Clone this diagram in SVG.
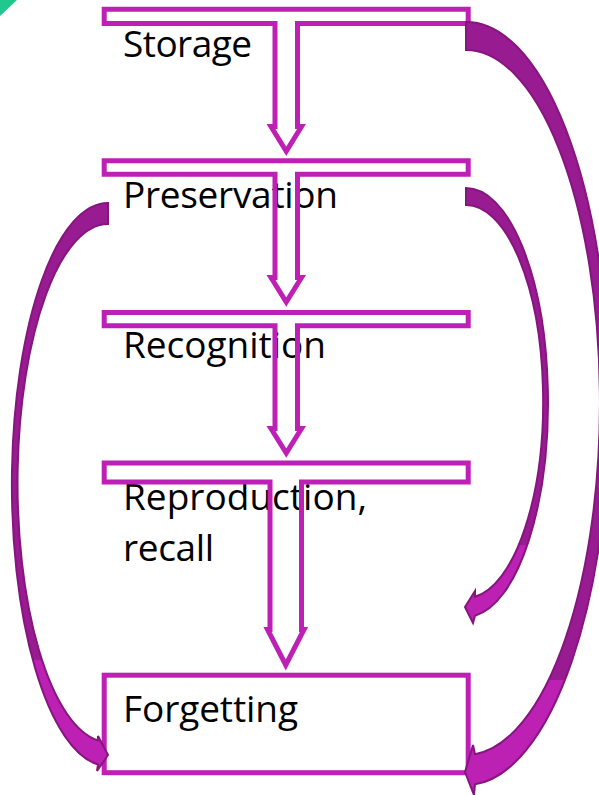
<svg xmlns="http://www.w3.org/2000/svg" width="599" height="795" viewBox="0 0 599 795">
  <style>
    .t { fill: none; stroke: #BE1FB4; stroke-width: 5; stroke-linejoin: miter; }
    .lbl { font-family: "Open Sans", "Liberation Sans", sans-serif; font-size: 37px; fill: #000; }
    .arc { stroke: #87157F; stroke-width: 2; stroke-linejoin: miter; }
  </style>
  <defs>
    <linearGradient id="gA" gradientUnits="userSpaceOnUse" x1="0" y1="0" x2="0" y2="795">
      <stop offset="0.855" stop-color="#991B91"/>
      <stop offset="0.855" stop-color="#BC21B4"/>
    </linearGradient>
    <linearGradient id="gB" gradientUnits="userSpaceOnUse" x1="0" y1="0" x2="0" y2="795">
      <stop offset="0.685" stop-color="#991B91"/>
      <stop offset="0.685" stop-color="#BC21B4"/>
    </linearGradient>
    <linearGradient id="gC" gradientUnits="userSpaceOnUse" x1="0" y1="0" x2="0" y2="795">
      <stop offset="0.83" stop-color="#991B91"/>
      <stop offset="0.83" stop-color="#BC21B4"/>
    </linearGradient>
  </defs>
  <rect width="599" height="795" fill="#FFFFFF"/>
  <polygon points="0,0 17,0 0,16" fill="#1FC98E"/>

  <g id="storage">
    <text class="lbl" x="123" y="57" textLength="129" lengthAdjust="spacing">Storage</text>
    <polygon class="t" points="104.2,9.3 468.2,9.3 468.2,23.5 297.5,23.5 297.5,126.5 301.5,126.5 286.25,151.2 271,126.5 275,126.5 275,23.5 104.2,23.5"/>
  </g>
  <g id="preservation">
    <text class="lbl" x="123" y="208" textLength="215" lengthAdjust="spacing">Preservation</text>
    <polygon class="t" points="104.2,160.8 468.2,160.8 468.2,174.2 297.5,174.2 297.5,277.5 301.5,277.5 286.25,302 271,277.5 275,277.5 275,174.2 104.2,174.2"/>
  </g>
  <g id="recognition">
    <text class="lbl" x="123" y="358" textLength="203" lengthAdjust="spacing">Recognition</text>
    <polygon class="t" points="104.2,312.5 468.2,312.5 468.2,325.8 297.5,325.8 297.5,428.5 301.5,428.5 286.25,453 271,428.5 275,428.5 275,325.8 104.2,325.8"/>
  </g>
  <g id="reproduction">
    <text class="lbl" x="123" y="510" textLength="244" lengthAdjust="spacing">Reproduction,</text>
    <text class="lbl" x="123" y="561" textLength="91" lengthAdjust="spacing">recall</text>
    <polygon class="t" points="104.2,463 468.2,463 468.2,482 301.5,482 301.5,629.5 304,629.5 285.75,665 267.5,629.5 270,629.5 270,482 104.2,482"/>
  </g>
  <g id="forgetting">
    <rect class="t" x="104.2" y="675.2" width="364" height="97.5"/>
    <text class="lbl" x="123" y="722" textLength="175" lengthAdjust="spacing">Forgetting</text>
  </g>

  <g id="connectors">
    <path id="arrow-storage-forgetting" class="arc" fill="url(#gA)" d="M 466 22 A 143 381.5 0 0 1 475 784.3 L 474 795 L 465 772 L 473 745 L 475 754.2 A 134 352.5 0 0 0 466 50 Z"/>
    <path id="arrow-preservation-right" class="arc" fill="url(#gB)" d="M 466 188 A 82 214.5 0 0 1 475 615.7 L 473 623 L 465 607 L 475 591 L 475 596.7 A 77 196.5 0 0 0 466 205 Z"/>
    <path id="arrow-preservation-forgetting" class="arc" fill="url(#gC)" d="M 108 203 A 96 281.5 0 0 0 98 764.5 L 97 771 L 108 755 L 98 736 L 98 740.4 A 90.5 259 0 0 1 108 224 Z"/>
  </g>
</svg>
